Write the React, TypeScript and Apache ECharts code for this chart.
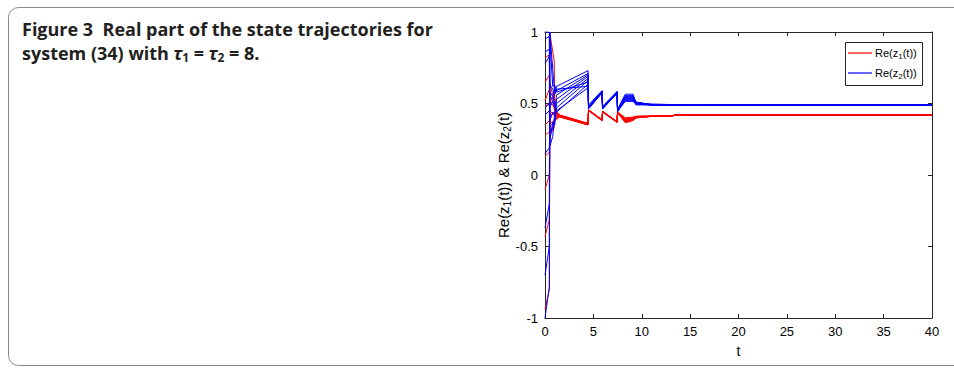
import React, { useEffect, useRef } from "react";
import * as echarts from "echarts";

// Time grids (t) at which each trajectory's values were read
const blueTimes = [0, 0.45, 0.5, 0.8, 1.0, 1.2, 4.45, 4.5, 5.9, 5.95, 7.45, 7.5, 8.3, 9.1, 9.4, 11, 16, 16.3, 40];
const redTimes = [0, 0.45, 0.5, 0.95, 1.0, 1.5, 4.45, 4.5, 5.9, 5.95, 7.45, 7.5, 8.3, 9.1, 9.4, 11, 13, 13.5, 40];

// Re(z2(t)) trajectories (blue)
const blue1 = [1.0, 1.0, 0.63, 0.6, 0.56, 0.62, 0.73, 0.49, 0.59, 0.48, 0.585, 0.46, 0.565, 0.565, 0.505, 0.495, 0.49, 0.49, 0.49];
const blue2 = [0.86, 0.88, 0.55, 0.53, 0.6, 0.59, 0.71, 0.48, 0.588, 0.475, 0.582, 0.455, 0.555, 0.555, 0.5, 0.492, 0.488, 0.49, 0.49];
const blue3 = [0.78, 0.83, 0.47, 0.52, 0.47, 0.56, 0.7, 0.475, 0.586, 0.472, 0.58, 0.452, 0.545, 0.545, 0.51, 0.49, 0.487, 0.49, 0.49];
const blue4 = [0.47, 0.5, 0.38, 0.44, 0.42, 0.53, 0.69, 0.472, 0.584, 0.47, 0.578, 0.45, 0.535, 0.535, 0.5, 0.49, 0.488, 0.49, 0.49];
const blue5 = [0.42, 0.45, 0.28, 0.33, 0.4, 0.5, 0.675, 0.47, 0.582, 0.468, 0.576, 0.448, 0.525, 0.525, 0.495, 0.49, 0.487, 0.489, 0.489];
const blue6 = [0.15, 0.19, 0.24, 0.37, 0.35, 0.47, 0.66, 0.468, 0.58, 0.466, 0.575, 0.446, 0.515, 0.515, 0.5, 0.49, 0.488, 0.49, 0.49];
const blue7 = [-0.37, -0.2, 0.95, 0.62, 0.63, 0.58, 0.65, 0.466, 0.578, 0.465, 0.574, 0.445, 0.52, 0.52, 0.49, 0.49, 0.487, 0.49, 0.49];
const blue8 = [-0.7, -0.5, 0.58, 0.55, 0.49, 0.44, 0.635, 0.465, 0.577, 0.464, 0.573, 0.444, 0.53, 0.53, 0.505, 0.495, 0.488, 0.49, 0.49];
const blue9 = [-1.0, -0.78, 1.0, 0.74, 0.57, 0.6, 0.62, 0.464, 0.576, 0.463, 0.572, 0.443, 0.54, 0.54, 0.5, 0.49, 0.487, 0.49, 0.49];
const blue10 = [0.95, 0.97, 0.2, 0.27, 0.41, 0.45, 0.61, 0.462, 0.575, 0.462, 0.57, 0.442, 0.55, 0.55, 0.51, 0.492, 0.488, 0.49, 0.49];

// Re(z1(t)) trajectories (red)
const red1 = [0.52, 0.6, 0.99, 0.8, 0.42, 0.41, 0.36, 0.455, 0.385, 0.445, 0.372, 0.44, 0.39, 0.4, 0.41, 0.412, 0.412, 0.42, 0.42];
const red2 = [0.82, 0.84, 0.3, 0.36, 0.45, 0.415, 0.355, 0.452, 0.383, 0.443, 0.37, 0.438, 0.38, 0.39, 0.405, 0.41, 0.41, 0.42, 0.42];
const red3 = [0.48, 0.5, 0.36, 0.38, 0.4, 0.41, 0.35, 0.45, 0.382, 0.442, 0.368, 0.436, 0.37, 0.385, 0.4, 0.41, 0.41, 0.42, 0.42];
const red4 = [0.28, 0.3, 0.56, 0.48, 0.44, 0.42, 0.358, 0.454, 0.384, 0.444, 0.371, 0.44, 0.395, 0.4, 0.41, 0.412, 0.412, 0.42, 0.42];
const red5 = [0.13, 0.16, 0.45, 0.42, 0.38, 0.405, 0.352, 0.451, 0.381, 0.441, 0.369, 0.437, 0.375, 0.388, 0.4, 0.41, 0.41, 0.42, 0.42];
const red6 = [-0.43, -0.31, 0.28, 0.33, 0.41, 0.412, 0.356, 0.453, 0.383, 0.443, 0.37, 0.439, 0.385, 0.395, 0.405, 0.411, 0.411, 0.42, 0.42];
const red7 = [-0.94, -0.8, 0.52, 0.47, 0.43, 0.418, 0.362, 0.456, 0.386, 0.446, 0.373, 0.441, 0.4, 0.405, 0.41, 0.412, 0.412, 0.42, 0.42];
const red8 = [0.65, 0.7, 0.4, 0.44, 0.39, 0.408, 0.35, 0.45, 0.38, 0.44, 0.368, 0.435, 0.365, 0.38, 0.4, 0.41, 0.41, 0.42, 0.42];
const red9 = [0.35, 0.38, 0.64, 0.52, 0.46, 0.42, 0.36, 0.455, 0.385, 0.445, 0.372, 0.44, 0.38, 0.392, 0.405, 0.41, 0.41, 0.42, 0.42];
const red10 = [-0.1, 0.0, 0.34, 0.37, 0.42, 0.41, 0.354, 0.452, 0.382, 0.442, 0.37, 0.438, 0.372, 0.386, 0.4, 0.41, 0.41, 0.42, 0.42];

const blueRuns = [blue1, blue2, blue3, blue4, blue5, blue6, blue7, blue8, blue9, blue10];
const redRuns = [red1, red2, red3, red4, red5, red6, red7, red8, red9, red10];

const xMin = 0;
const xMax = 40;
const xStep = 5;
const yMin = -1;
const yMax = 1;
const yStep = 0.5;

const RED = "#ff0000";
const BLUE = "#0000ff";
const FONT = "Liberation Sans, Arial, Helvetica, sans-serif";
const AXIS_COLOR = "#262626";

const legendEntries = [
  { label: "{a|Re(z}{s|1}{a|(t))}", color: RED },
  { label: "{a|Re(z}{s|2}{a|(t))}", color: BLUE },
];

export default function App() {
  const ref = useRef<HTMLDivElement>(null);

  useEffect(() => {
    if (!ref.current) return;
    const chart = echarts.init(ref.current, undefined, { renderer: "svg" });

    const mkSeries = (runs: number[][], times: number[], name: string, color: string) =>
      runs.map((vals) => ({
        type: "line" as const,
        name,
        color,
        data: vals.map((v, i) => [times[i], v]),
        showSymbol: false,
        symbol: "none",
        lineStyle: { color, width: 1 },
        itemStyle: { color },
        xAxisIndex: 0,
        yAxisIndex: 0,
        silent: true,
        clip: true,
      }));

    const baseAxis = {
      type: "value" as const,
      splitLine: { show: false },
      axisLine: { show: true, onZero: false, lineStyle: { color: AXIS_COLOR, width: 1 } },
      axisTick: { show: true, inside: true, length: 4, lineStyle: { color: AXIS_COLOR, width: 1 } },
    };

    const legendGraphics = [
      {
        type: "rect",
        shape: { x: 845.5, y: 42.5, width: 77, height: 43 },
        style: { fill: "#fff", stroke: AXIS_COLOR, lineWidth: 1 },
        z: 100,
        silent: true,
      },
      ...legendEntries.flatMap((e, i) => [
        {
          type: "line",
          shape: { x1: 848, y1: 53 + i * 20, x2: 872, y2: 53 + i * 20 },
          style: { stroke: e.color, lineWidth: 1.2 },
          z: 101,
          silent: true,
        },
        {
          type: "text",
          x: 875,
          y: 53 + i * 20,
          style: {
            text: e.label,
            fill: "#000",
            font: `11px ${FONT}`,
            verticalAlign: "middle",
            rich: {
              a: { fontSize: 11, fontFamily: FONT, fill: "#000" },
              s: { fontSize: 8, fontFamily: FONT, fill: "#000", padding: [6, 0, 0, 0] },
            },
          },
          z: 101,
          silent: true,
        },
      ]),
    ];

    chart.setOption({
      animation: false,
      backgroundColor: "#ffffff",
      grid: { left: 545, right: 22, top: 32, bottom: 51, containLabel: false },
      xAxis: [
        {
          ...baseAxis,
          min: xMin,
          max: xMax,
          interval: xStep,
          position: "bottom",
          axisLabel: { color: "#000", fontSize: 13, fontFamily: FONT, margin: 7 },
          name: "t",
          nameLocation: "middle",
          nameGap: 26,
          nameTextStyle: { color: "#000", fontSize: 14, fontFamily: FONT },
        },
        {
          ...baseAxis,
          min: xMin,
          max: xMax,
          interval: xStep,
          position: "top",
          axisLabel: { show: false },
        },
      ],
      yAxis: [
        {
          ...baseAxis,
          min: yMin,
          max: yMax,
          interval: yStep,
          position: "left",
          axisLabel: { color: "#000", fontSize: 13, fontFamily: FONT, margin: 7 },
        },
        {
          ...baseAxis,
          min: yMin,
          max: yMax,
          interval: yStep,
          position: "right",
          axisLabel: { show: false },
        },
      ],
      graphic: [
        {
          type: "rect",
          shape: { x: 8.5, y: 7.5, width: 1000, height: 358, r: 10 },
          style: { fill: "none", stroke: "#8a8a8a", lineWidth: 1 },
          silent: true,
        },
        {
          type: "text",
          x: 22,
          y: 17,
          style: {
            text: "Figure 3  Real part of the state trajectories for\nsystem (34) with {t|τ}{s|1} = {t|τ}{s|2} = 8.",
            font: "bold 18px 'Open Sans', sans-serif",
            fill: "#231f20",
            lineHeight: 24,
            rich: {
              t: { fontFamily: "Noto Sans, sans-serif", fontStyle: "italic", fontWeight: "bold", fontSize: 18, fill: "#231f20" },
              s: { fontFamily: "Open Sans, sans-serif", fontWeight: "bold", fontSize: 12, padding: [8, 0, 0, 0], fill: "#231f20" },
            },
          },
          silent: true,
        },
        {
          type: "text",
          x: 503,
          y: 175,
          rotation: Math.PI / 2,
          style: {
            text: "Re(z{s|1}(t)) & Re(z{s|2}(t)",
            font: `15px ${FONT}`,
            fill: "#000",
            align: "center",
            verticalAlign: "middle",
            rich: {
              s: { fontSize: 10, fontFamily: FONT, padding: [8, 0, 0, 0], fill: "#000" },
            },
          },
          silent: true,
        },
        ...legendGraphics,
      ],
      series: [
        ...mkSeries(redRuns, redTimes, "r", RED),
        ...mkSeries(blueRuns, blueTimes, "b", BLUE),
      ],
    });

    return () => chart.dispose();
  }, []);

  return (
    <div
      ref={ref}
      style={{ position: "fixed", left: 0, top: 0, width: 954, height: 369, background: "#fff" }}
    />
  );
}
